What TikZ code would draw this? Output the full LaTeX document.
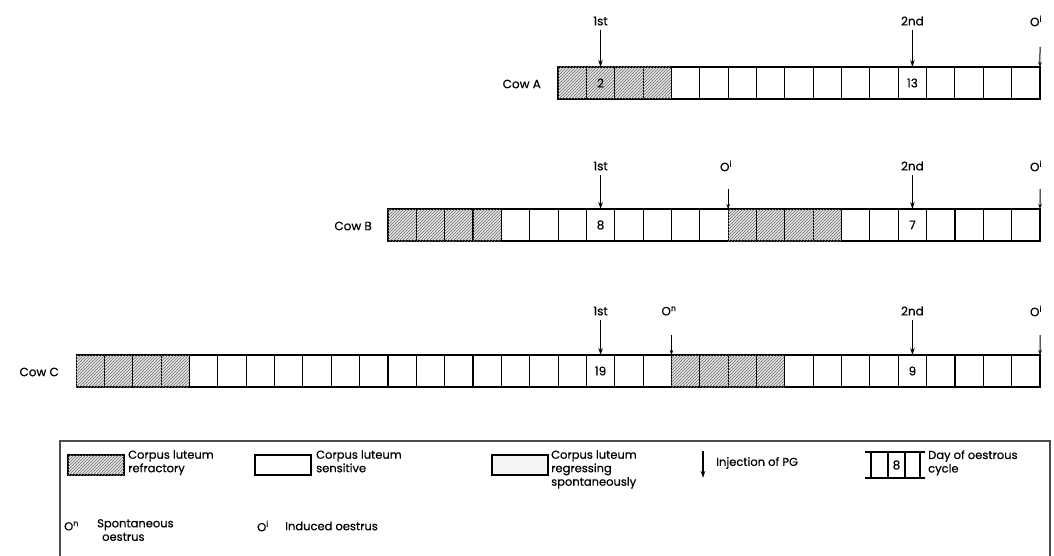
\documentclass[tikz,border=0pt]{standalone}
\usepackage{fontspec}
\setmainfont{Poppins}[UprightFeatures={FakeBold=0.5}]
\usetikzlibrary{patterns,arrows.meta}
\begin{document}
\begin{tikzpicture}[x=1pt,y=-1pt,
  cell/.style={draw=black, line width=1.1pt, minimum width=28.35pt, minimum height=32pt,
    inner sep=0pt, outer sep=0pt, anchor=north west},
  hatch/.style={cell, fill=gray!22, postaction={pattern=north east lines, pattern color=black!55}},
  daynum/.style={inner sep=0pt, font=\fontsize{12}{13}\selectfont},
  cowlbl/.style={anchor=east, inner sep=0pt, font=\fontsize{12}{13}\selectfont},
  toplbl/.style={inner sep=0pt, font=\fontsize{12}{13}\selectfont},
  inj/.style={line width=1.3pt, -{Stealth[length=7pt,width=4.5pt]}, shorten <=4pt},
  oarr/.style={line width=1pt, -{Stealth[length=5pt,width=3.5pt]}},
  legtext/.style={anchor=north west, inner sep=0pt, align=left, font=\fontsize{11.5}{13.5}\selectfont},
  swatch/.style={draw=black, line width=1.1pt, minimum width=56pt, minimum height=20pt,
    inner sep=0pt, outer sep=0pt, anchor=north west},
  frame/.style={draw=black!70, line width=1.1pt}
]
\useasboundingbox (0,0) rectangle (1054,556);
\fill[white] (0,0) rectangle (1054,556);

% ---------------- Cow A ----------------
\def\w{28.35}
\foreach \i in {1,...,4} \node[hatch] (A\i) at ({558+(\i-1)*\w},67) {};
\foreach \i in {5,...,17} \node[cell] (A\i) at ({558+(\i-1)*\w},67) {};
\node[cowlbl] (Alab) at (541,84) {Cow A};
\node[daynum] (Ad2) at (A2.center) {2};
\node[daynum] (Ad13) at (A13.center) {13};
\node[toplbl] (A1st) at (A2.center |- 0,21) {1st};
\node[toplbl] (A2nd) at (A13.center |- 0,21) {2nd};
\node[toplbl] (AO) at (1036,21) {O\textsuperscript{i}};
\draw[inj] (A1st) -- (A2.north);
\draw[inj] (A2nd) -- (A13.north);
\coordinate (AOs) at (1040,47);
\draw[oarr] (AOs) -- (A17.north east);

% ---------------- Cow B ----------------
\foreach \i in {1,...,4} \node[hatch] (B\i) at ({387.95+(\i-1)*\w},209) {};
\foreach \i in {5,...,12} \node[cell] (B\i) at ({387.95+(\i-1)*\w},209) {};
\foreach \i in {13,...,16} \node[hatch] (B\i) at ({387.95+(\i-1)*\w},209) {};
\foreach \i in {17,...,23} \node[cell] (B\i) at ({387.95+(\i-1)*\w},209) {};
\node[cowlbl] (Blab) at (372,226) {Cow B};
\node[daynum] (Bd8) at (B8.center) {8};
\node[daynum] (Bd7) at (B19.center) {7};
\node[toplbl] (B1st) at (B8.center |- 0,166) {1st};
\node[toplbl] (BO1) at (726,166) {O\textsuperscript{i}};
\node[toplbl] (B2nd) at (B19.center |- 0,166) {2nd};
\node[toplbl] (BO2) at (1036,166) {O\textsuperscript{i}};
\draw[inj] (B1st) -- (B8.north);
\draw[inj] (B2nd) -- (B19.north);
\coordinate (BO1s) at (B12.north east |- 0,189);
\draw[oarr] (BO1s) -- (B12.north east);
\coordinate (BO2s) at (1040,189);
\draw[oarr] (BO2s) -- (B23.north east);

% ---------------- Cow C ----------------
\foreach \i in {1,...,4} \node[hatch] (C\i) at ({76.1+(\i-1)*\w},355) {};
\foreach \i in {5,...,21} \node[cell] (C\i) at ({76.1+(\i-1)*\w},355) {};
\foreach \i in {22,...,25} \node[hatch] (C\i) at ({76.1+(\i-1)*\w},355) {};
\foreach \i in {26,...,34} \node[cell] (C\i) at ({76.1+(\i-1)*\w},355) {};
\node[cowlbl] (Clab) at (59,372) {Cow C};
\node[daynum] (Cd19) at (C19.center) {19};
\node[daynum] (Cd9) at (C30.center) {9};
\node[toplbl] (C1st) at (C19.center |- 0,311) {1st};
\node[toplbl] (CO1) at (669,311) {O\textsuperscript{n}};
\node[toplbl] (C2nd) at (C30.center |- 0,311) {2nd};
\node[toplbl] (CO2) at (1036,311) {O\textsuperscript{i}};
\draw[inj] (C1st) -- (C19.north);
\draw[inj] (C2nd) -- (C30.north);
\coordinate (CO1s) at (C21.north east |- 0,335);
\draw[oarr] (CO1s) -- (C21.north east);
\coordinate (CO2s) at (1040,335);
\draw[oarr] (CO2s) -- (C34.north east);

% ---------------- Legend ----------------
\draw[frame] (60,556) -- (60,441) -- (1050,441) -- (1050,556);

\node[swatch, fill=gray!22, postaction={pattern=north east lines, pattern color=black!55}] (Ls1) at (68,455) {};
\node[legtext] (Lt1) at (128,450) {Corpus luteum\\refractory};

\node[swatch] (Ls2) at (255,455) {};
\node[legtext] (Lt2) at (316,450) {Corpus luteum\\sensitive};

\node[swatch, fill=gray!8] (Ls3) at (492,455) {};
\node[legtext] (Lt3) at (551,450) {Corpus luteum\\regressing\\spontaneously};

\coordinate (Lia) at (703,451);
\coordinate (Lib) at (703,478);
\draw[inj, shorten <=0pt] (Lia) -- (Lib);
\node[legtext, anchor=west] (Lt4) at (716,463) {Injection of PG};

\draw[line width=1.1pt] (865,452) -- (925,452);
\draw[line width=1.1pt] (865,478) -- (925,478);
\foreach \xx in {871,888,905,920} \draw[line width=1.1pt] (\xx,452) -- (\xx,478);
\node[daynum] (Ld8) at (896.5,465) {8};
\node[legtext] (Lt5) at (928,450) {Day of oestrous\\cycle};

\node[legtext, anchor=west] (Lo1) at (64,526) {O\textsuperscript{n}};
\node[legtext] (Lt6) at (97,519) {Spontaneous\\\hspace{5pt}oestrus};
\node[legtext, anchor=west] (Lo2) at (257,526) {O\textsuperscript{i}};
\node[legtext, anchor=west] (Lt7) at (285,526) {Induced oestrus};
\end{tikzpicture}
\end{document}
